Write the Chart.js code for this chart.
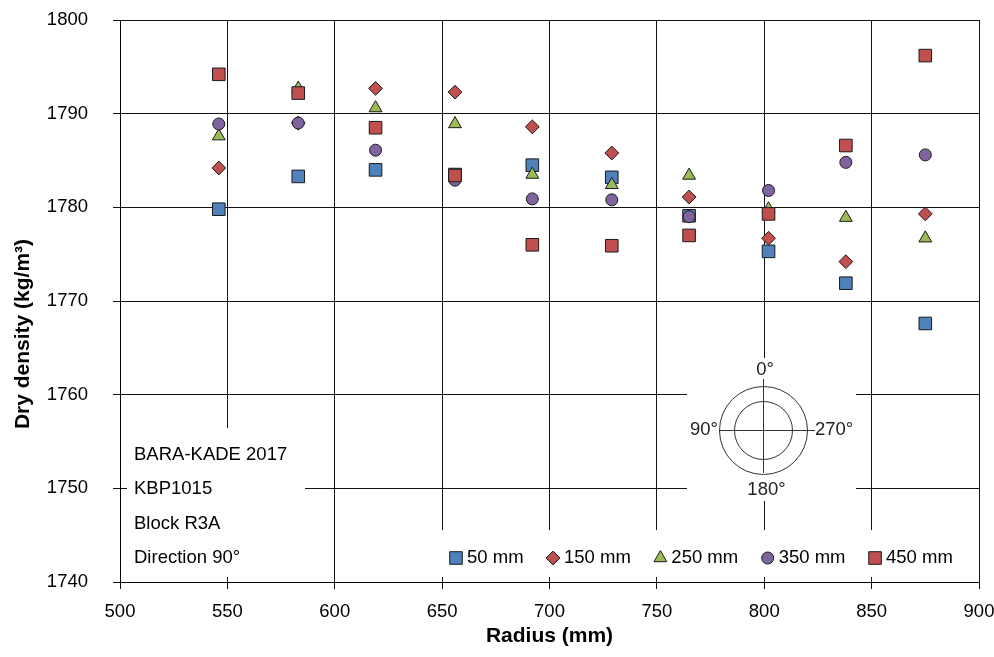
<!DOCTYPE html>
<html>
<head>
<meta charset="utf-8">
<title>Dry density - KBP1015</title>
<script src="https://cdn.jsdelivr.net/npm/chart.js@4.4.1/dist/chart.umd.min.js"></script>
<style>
  html, body { margin: 0; padding: 0; background: #fff; }
  #wrap { width: 994px; height: 657px; }
</style>
</head>
<body>
<div id="wrap"><canvas id="grafico" width="994" height="657"></canvas></div>
<script>
// radius of each sample ring (mm)
var radius = [546, 583, 619, 656, 692, 729, 765, 802, 838, 875];

// dry density (kg/m3) per sample level
var dens50  = [1779.8, 1783.3, 1784.0, 1783.5, 1784.5, 1783.2, 1779.1, 1775.3, 1771.9, 1767.6];
var dens150 = [1784.2, 1789.0, 1792.7, 1792.3, 1788.6, 1785.8, 1781.1, 1776.7, 1774.2, 1779.3];
var dens250 = [1787.6, 1792.7, 1790.6, 1788.9, 1783.5, 1782.4, 1783.4, 1779.8, 1778.9, 1776.7];
var dens350 = [1788.9, 1789.0, 1786.1, 1782.9, 1780.9, 1780.8, 1779.0, 1781.8, 1784.8, 1785.6];
var dens450 = [1794.2, 1792.2, 1788.5, 1783.4, 1776.0, 1775.9, 1777.0, 1779.3, 1786.6, 1796.2];

var seriesNames = ['50 mm', '150 mm', '250 mm', '350 mm', '450 mm'];
var seriesData = [dens50, dens150, dens250, dens350, dens450];

var infoLines = ['BARA-KADE 2017', 'KBP1015', 'Block R3A', 'Direction 90°'];
var compass = ['0°', '90°', '180°', '270°'];

var xTitle = 'Radius (mm)';
var yTitle = 'Dry density (kg/m³)';

// marker look per series
var markers = [
  { style: 'rect',     size: 8.9, color: '#4F81BD' },
  { style: 'rectRot',  size: 6.9, color: '#C0504D' },
  { style: 'triangle', size: 7.4, color: '#9BBB59' },
  { style: 'circle',   size: 6.0, color: '#8064A2' },
  { style: 'rect',     size: 8.9, color: '#C0504D' }
];

var FONT = "'Liberation Sans', Arial, Helvetica, sans-serif";
Chart.defaults.font.family = FONT;
Chart.defaults.color = '#000';

function points(ys) {
  return radius.map(function (r, i) { return { x: r, y: ys[i] }; });
}

var datasets = seriesData.map(function (ys, i) {
  var m = markers[i];
  return {
    label: seriesNames[i],
    data: points(ys),
    pointStyle: m.style,
    pointRadius: m.size,
    pointHoverRadius: m.size,
    pointBackgroundColor: m.color,
    pointBorderColor: '#1a1a1a',
    pointBorderWidth: 1,
    showLine: false,
    order: seriesData.length - i   // deeper levels drawn on top
  };
});

function drawMarker(ctx, m, x, y) {
  if (Chart.helpers && Chart.helpers.drawPoint) {
    ctx.fillStyle = m.color;
    ctx.strokeStyle = '#1a1a1a';
    ctx.lineWidth = 1;
    Chart.helpers.drawPoint(ctx, { pointStyle: m.style, radius: m.size, borderWidth: 1, rotation: 0 }, x, y);
    return;
  }
  ctx.beginPath();
  ctx.arc(x, y, m.size, 0, Math.PI * 2);
  ctx.fillStyle = m.color;
  ctx.fill();
  ctx.stroke();
}

// white panels inside the plot: sample info, orientation sketch and legend
var panels = {
  id: 'panels',
  beforeDatasetsDraw: function (chart) {
    var ctx = chart.ctx;
    ctx.save();
    ctx.fillStyle = '#fff';
    ctx.fillRect(127, 428, 178, 149);
    ctx.fillRect(687, 358, 169, 143);
    ctx.fillRect(440, 530, 538, 47);

    ctx.fillStyle = '#000';
    ctx.font = '18.5px ' + FONT;
    ctx.textAlign = 'left';
    ctx.textBaseline = 'middle';
    infoLines.forEach(function (t, i) {
      ctx.fillText(t, 134, 454.5 + i * 34.6);
    });

    // orientation sketch
    var cx = 763.5, cy = 430.5;
    ctx.strokeStyle = '#333';
    ctx.lineWidth = 1;
    ctx.beginPath(); ctx.arc(cx, cy, 44, 0, Math.PI * 2); ctx.stroke();
    ctx.beginPath(); ctx.arc(cx, cy, 29, 0, Math.PI * 2); ctx.stroke();
    ctx.beginPath();
    ctx.moveTo(719, cy); ctx.lineTo(815, cy);
    ctx.moveTo(cx, 379); ctx.lineTo(cx, 473);
    ctx.stroke();
    ctx.fillStyle = '#222';
    ctx.textAlign = 'center';
    ctx.fillText(compass[0], 765, 370);
    ctx.fillText(compass[2], 766.5, 489.5);
    ctx.textAlign = 'right';
    ctx.fillText(compass[1], 718, 429.5);
    ctx.textAlign = 'left';
    ctx.fillText(compass[3], 815, 429.5);

    // legend
    var x = 456, y = 558;
    ctx.textAlign = 'left';
    seriesNames.forEach(function (name, i) {
      drawMarker(ctx, markers[i], x, y);
      ctx.fillStyle = '#000';
      ctx.fillText(name, x + 11, y);
      x += 11 + ctx.measureText(name).width + 29.5;
    });
    ctx.restore();
  },
  afterDraw: function (chart) {
    var ctx = chart.ctx;
    ctx.save();
    ctx.translate(23, 334);
    ctx.rotate(-Math.PI / 2);
    ctx.font = 'bold 21px ' + FONT;
    ctx.fillStyle = '#000';
    ctx.textAlign = 'center';
    ctx.textBaseline = 'middle';
    ctx.fillText(yTitle, 0, 0);
    ctx.restore();
  }
};

var ctx = document.getElementById('grafico').getContext('2d');
var myChart = new Chart(ctx, {
  type: 'scatter',
  data: { datasets: datasets },
  options: {
    responsive: false,
    animation: false,
    devicePixelRatio: 1,
    layout: { padding: { top: 20, right: 15, left: 0, bottom: 0 } },
    plugins: {
      legend: { display: false },
      tooltip: { enabled: false }
    },
    scales: {
      x: {
        type: 'linear',
        min: 500,
        max: 900,
        afterFit: function (s) {
          s.height = 75;
          s.paddingLeft = 0; s.paddingRight = 0;
        },
        ticks: { stepSize: 50, padding: 12, font: { size: 18.5 }, color: '#000', maxRotation: 0 },
        grid: { color: '#111', lineWidth: 1, tickLength: 7 },
        border: { color: '#000', width: 1 },
        title: { display: true, text: xTitle, font: { size: 21, weight: 'bold' }, color: '#000', padding: { top: 0, bottom: 8 } }
      },
      y: {
        min: 1740,
        max: 1800,
        afterFit: function (s) {
          s.width = 120;
          s.paddingTop = 0; s.paddingBottom = 0;
        },
        ticks: {
          stepSize: 10, padding: 25, font: { size: 18.5 }, color: '#000',
          callback: function (v) { return String(v); }
        },
        grid: { color: '#111', lineWidth: 1, tickLength: 7 },
        border: { color: '#000', width: 1 }
      }
    }
  },
  plugins: [panels]
});
</script>
</body>
</html>
